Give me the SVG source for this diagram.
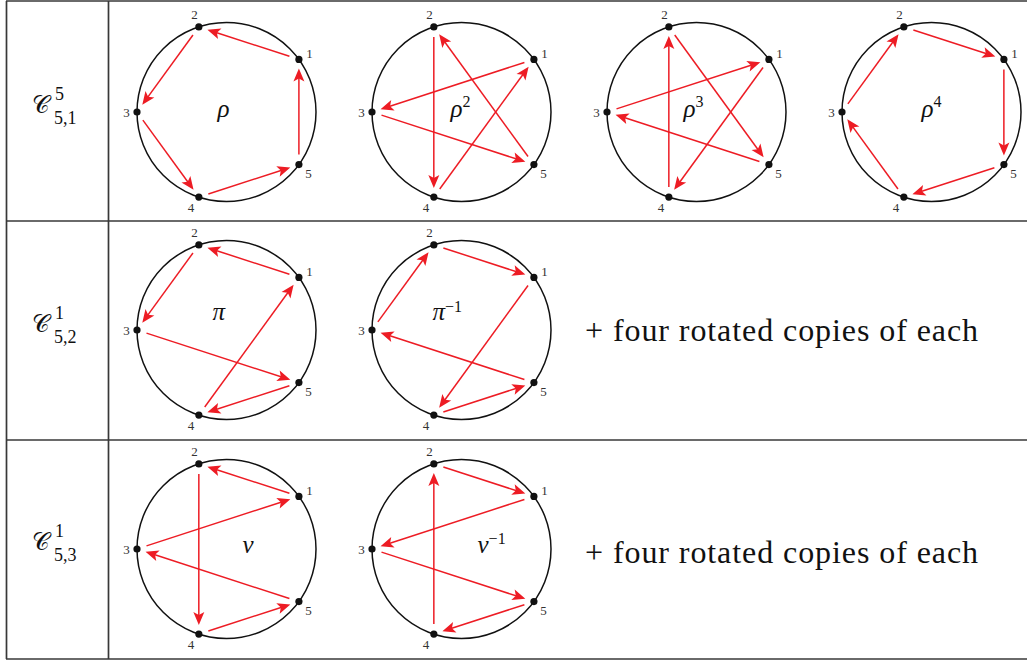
<svg xmlns="http://www.w3.org/2000/svg" width="1032" height="662" viewBox="0 0 1032 662">
<defs>
<marker id="ah" markerUnits="userSpaceOnUse" viewBox="-9 -6 15 12" refX="0" refY="0" markerWidth="15" markerHeight="12" orient="auto">
<path d="M5,0 L-8,-5.5 L-5,0 L-8,5.5 Z" fill="#ed1c24"/>
</marker>
<g id="ring"><circle r="89.5" fill="none" stroke="#111" stroke-width="1.5"/></g>
</defs>
<rect width="1032" height="662" fill="#fff"/>
<g id="table" stroke="#383838" stroke-width="1.7" fill="none">
<line x1="6" y1="1" x2="1027" y2="1"/>
<line x1="6" y1="221" x2="1027" y2="221"/>
<line x1="6" y1="440" x2="1027" y2="440"/>
<line x1="6" y1="659" x2="1027" y2="659"/>
<line x1="6.5" y1="1" x2="6.5" y2="659"/>
<line x1="108.5" y1="1" x2="108.5" y2="659"/>
</g>
<g id="label-row1" fill="#111">
<text font-family="Liberation Serif" style="font-family:'Liberation Serif',serif" font-size="24" x="32" y="113">𝒞</text>
<text font-family="Liberation Serif" style="font-family:'Liberation Serif',serif" font-size="18" x="55" y="100">5</text>
<text font-family="Liberation Serif" style="font-family:'Liberation Serif',serif" font-size="18" x="54" y="124">5,1</text>
</g>
<g id="label-row2" fill="#111">
<text font-family="Liberation Serif" style="font-family:'Liberation Serif',serif" font-size="24" x="32" y="331.5">𝒞</text>
<text font-family="Liberation Serif" style="font-family:'Liberation Serif',serif" font-size="18" x="55" y="318.5">1</text>
<text font-family="Liberation Serif" style="font-family:'Liberation Serif',serif" font-size="18" x="54" y="342.5">5,2</text>
</g>
<g id="label-row3" fill="#111">
<text font-family="Liberation Serif" style="font-family:'Liberation Serif',serif" font-size="24" x="32" y="550">𝒞</text>
<text font-family="Liberation Serif" style="font-family:'Liberation Serif',serif" font-size="18" x="55" y="537">1</text>
<text font-family="Liberation Serif" style="font-family:'Liberation Serif',serif" font-size="18" x="54" y="561">5,3</text>
</g>
<text id="note-row2" font-family="Liberation Serif" style="font-family:'Liberation Serif',serif" font-size="32" fill="#111" x="585" y="340.5" textLength="393" lengthAdjust="spacing">+ four rotated copies of each</text>
<text id="note-row3" font-family="Liberation Serif" style="font-family:'Liberation Serif',serif" font-size="32" fill="#111" x="585" y="562.5" textLength="393" lengthAdjust="spacing">+ four rotated copies of each</text>

<g id="rho" transform="translate(226.5,112)">
<use href="#ring"/>
<g id="rho-1"><circle fill="#111" cx="72.41" cy="-52.61" r="3.6"/><text font-family="Liberation Serif" style="font-family:'Liberation Serif',serif" font-size="13" fill="#333" text-anchor="middle" x="83" y="-54">1</text></g>
<g id="rho-2"><circle fill="#111" cx="-27.66" cy="-85.12" r="3.6"/><text font-family="Liberation Serif" style="font-family:'Liberation Serif',serif" font-size="13" fill="#333" text-anchor="middle" x="-32" y="-93.5">2</text></g>
<g id="rho-3"><circle fill="#111" cx="-89.5" cy="0" r="3.6"/><text font-family="Liberation Serif" style="font-family:'Liberation Serif',serif" font-size="13" fill="#333" text-anchor="middle" x="-100" y="4.5">3</text></g>
<g id="rho-4"><circle fill="#111" cx="-27.66" cy="85.12" r="3.6"/><text font-family="Liberation Serif" style="font-family:'Liberation Serif',serif" font-size="13" fill="#333" text-anchor="middle" x="-35.5" y="100">4</text></g>
<g id="rho-5"><circle fill="#111" cx="72.41" cy="52.61" r="3.6"/><text font-family="Liberation Serif" style="font-family:'Liberation Serif',serif" font-size="13" fill="#333" text-anchor="middle" x="82" y="65.5">5</text></g>
<text font-family="Liberation Serif" style="font-family:'Liberation Serif',serif" font-style="italic" font-size="25" fill="#111" x="-9" y="5">ρ</text>
</g>
<g id="rho2" transform="translate(461.5,112)">
<use href="#ring"/>
<g id="rho2-1"><circle fill="#111" cx="72.41" cy="-52.61" r="3.6"/><text font-family="Liberation Serif" style="font-family:'Liberation Serif',serif" font-size="13" fill="#333" text-anchor="middle" x="83" y="-54">1</text></g>
<g id="rho2-2"><circle fill="#111" cx="-27.66" cy="-85.12" r="3.6"/><text font-family="Liberation Serif" style="font-family:'Liberation Serif',serif" font-size="13" fill="#333" text-anchor="middle" x="-32" y="-93.5">2</text></g>
<g id="rho2-3"><circle fill="#111" cx="-89.5" cy="0" r="3.6"/><text font-family="Liberation Serif" style="font-family:'Liberation Serif',serif" font-size="13" fill="#333" text-anchor="middle" x="-100" y="4.5">3</text></g>
<g id="rho2-4"><circle fill="#111" cx="-27.66" cy="85.12" r="3.6"/><text font-family="Liberation Serif" style="font-family:'Liberation Serif',serif" font-size="13" fill="#333" text-anchor="middle" x="-35.5" y="100">4</text></g>
<g id="rho2-5"><circle fill="#111" cx="72.41" cy="52.61" r="3.6"/><text font-family="Liberation Serif" style="font-family:'Liberation Serif',serif" font-size="13" fill="#333" text-anchor="middle" x="82" y="65.5">5</text></g>
<text font-family="Liberation Serif" style="font-family:'Liberation Serif',serif" font-style="italic" font-size="25" fill="#111" x="-11" y="5">ρ<tspan font-style="normal" font-size="16" dy="-10">2</tspan></text>
</g>
<g id="rho3" transform="translate(696.5,112)">
<use href="#ring"/>
<g id="rho3-1"><circle fill="#111" cx="72.41" cy="-52.61" r="3.6"/><text font-family="Liberation Serif" style="font-family:'Liberation Serif',serif" font-size="13" fill="#333" text-anchor="middle" x="83" y="-54">1</text></g>
<g id="rho3-2"><circle fill="#111" cx="-27.66" cy="-85.12" r="3.6"/><text font-family="Liberation Serif" style="font-family:'Liberation Serif',serif" font-size="13" fill="#333" text-anchor="middle" x="-32" y="-93.5">2</text></g>
<g id="rho3-3"><circle fill="#111" cx="-89.5" cy="0" r="3.6"/><text font-family="Liberation Serif" style="font-family:'Liberation Serif',serif" font-size="13" fill="#333" text-anchor="middle" x="-100" y="4.5">3</text></g>
<g id="rho3-4"><circle fill="#111" cx="-27.66" cy="85.12" r="3.6"/><text font-family="Liberation Serif" style="font-family:'Liberation Serif',serif" font-size="13" fill="#333" text-anchor="middle" x="-35.5" y="100">4</text></g>
<g id="rho3-5"><circle fill="#111" cx="72.41" cy="52.61" r="3.6"/><text font-family="Liberation Serif" style="font-family:'Liberation Serif',serif" font-size="13" fill="#333" text-anchor="middle" x="82" y="65.5">5</text></g>
<text font-family="Liberation Serif" style="font-family:'Liberation Serif',serif" font-style="italic" font-size="25" fill="#111" x="-13" y="5">ρ<tspan font-style="normal" font-size="16" dy="-10">3</tspan></text>
</g>
<g id="rho4" transform="translate(931.5,112)">
<use href="#ring"/>
<g id="rho4-1"><circle fill="#111" cx="72.41" cy="-52.61" r="3.6"/><text font-family="Liberation Serif" style="font-family:'Liberation Serif',serif" font-size="13" fill="#333" text-anchor="middle" x="83" y="-54">1</text></g>
<g id="rho4-2"><circle fill="#111" cx="-27.66" cy="-85.12" r="3.6"/><text font-family="Liberation Serif" style="font-family:'Liberation Serif',serif" font-size="13" fill="#333" text-anchor="middle" x="-32" y="-93.5">2</text></g>
<g id="rho4-3"><circle fill="#111" cx="-89.5" cy="0" r="3.6"/><text font-family="Liberation Serif" style="font-family:'Liberation Serif',serif" font-size="13" fill="#333" text-anchor="middle" x="-100" y="4.5">3</text></g>
<g id="rho4-4"><circle fill="#111" cx="-27.66" cy="85.12" r="3.6"/><text font-family="Liberation Serif" style="font-family:'Liberation Serif',serif" font-size="13" fill="#333" text-anchor="middle" x="-35.5" y="100">4</text></g>
<g id="rho4-5"><circle fill="#111" cx="72.41" cy="52.61" r="3.6"/><text font-family="Liberation Serif" style="font-family:'Liberation Serif',serif" font-size="13" fill="#333" text-anchor="middle" x="82" y="65.5">5</text></g>
<text font-family="Liberation Serif" style="font-family:'Liberation Serif',serif" font-style="italic" font-size="25" fill="#111" x="-10" y="5">ρ<tspan font-style="normal" font-size="16" dy="-10">4</tspan></text>
</g>
<g id="pi" transform="translate(226.5,330)">
<use href="#ring"/>
<g id="pi-1"><circle fill="#111" cx="72.41" cy="-52.61" r="3.6"/><text font-family="Liberation Serif" style="font-family:'Liberation Serif',serif" font-size="13" fill="#333" text-anchor="middle" x="83" y="-54">1</text></g>
<g id="pi-2"><circle fill="#111" cx="-27.66" cy="-85.12" r="3.6"/><text font-family="Liberation Serif" style="font-family:'Liberation Serif',serif" font-size="13" fill="#333" text-anchor="middle" x="-32" y="-93.5">2</text></g>
<g id="pi-3"><circle fill="#111" cx="-89.5" cy="0" r="3.6"/><text font-family="Liberation Serif" style="font-family:'Liberation Serif',serif" font-size="13" fill="#333" text-anchor="middle" x="-100" y="4.5">3</text></g>
<g id="pi-4"><circle fill="#111" cx="-27.66" cy="85.12" r="3.6"/><text font-family="Liberation Serif" style="font-family:'Liberation Serif',serif" font-size="13" fill="#333" text-anchor="middle" x="-35.5" y="100">4</text></g>
<g id="pi-5"><circle fill="#111" cx="72.41" cy="52.61" r="3.6"/><text font-family="Liberation Serif" style="font-family:'Liberation Serif',serif" font-size="13" fill="#333" text-anchor="middle" x="82" y="65.5">5</text></g>
<text font-family="Liberation Serif" style="font-family:'Liberation Serif',serif" font-style="italic" font-size="25" fill="#111" x="-14" y="-10">π</text>
</g>
<g id="piinv" transform="translate(461.5,330)">
<use href="#ring"/>
<g id="piinv-1"><circle fill="#111" cx="72.41" cy="-52.61" r="3.6"/><text font-family="Liberation Serif" style="font-family:'Liberation Serif',serif" font-size="13" fill="#333" text-anchor="middle" x="83" y="-54">1</text></g>
<g id="piinv-2"><circle fill="#111" cx="-27.66" cy="-85.12" r="3.6"/><text font-family="Liberation Serif" style="font-family:'Liberation Serif',serif" font-size="13" fill="#333" text-anchor="middle" x="-32" y="-93.5">2</text></g>
<g id="piinv-3"><circle fill="#111" cx="-89.5" cy="0" r="3.6"/><text font-family="Liberation Serif" style="font-family:'Liberation Serif',serif" font-size="13" fill="#333" text-anchor="middle" x="-100" y="4.5">3</text></g>
<g id="piinv-4"><circle fill="#111" cx="-27.66" cy="85.12" r="3.6"/><text font-family="Liberation Serif" style="font-family:'Liberation Serif',serif" font-size="13" fill="#333" text-anchor="middle" x="-35.5" y="100">4</text></g>
<g id="piinv-5"><circle fill="#111" cx="72.41" cy="52.61" r="3.6"/><text font-family="Liberation Serif" style="font-family:'Liberation Serif',serif" font-size="13" fill="#333" text-anchor="middle" x="82" y="65.5">5</text></g>
<text font-family="Liberation Serif" style="font-family:'Liberation Serif',serif" font-style="italic" font-size="25" fill="#111" x="-29" y="-10">π<tspan font-style="normal" font-size="16" dy="-8">−1</tspan></text>
</g>
<g id="nu" transform="translate(226.5,549)">
<use href="#ring"/>
<g id="nu-1"><circle fill="#111" cx="72.41" cy="-52.61" r="3.6"/><text font-family="Liberation Serif" style="font-family:'Liberation Serif',serif" font-size="13" fill="#333" text-anchor="middle" x="83" y="-54">1</text></g>
<g id="nu-2"><circle fill="#111" cx="-27.66" cy="-85.12" r="3.6"/><text font-family="Liberation Serif" style="font-family:'Liberation Serif',serif" font-size="13" fill="#333" text-anchor="middle" x="-32" y="-93.5">2</text></g>
<g id="nu-3"><circle fill="#111" cx="-89.5" cy="0" r="3.6"/><text font-family="Liberation Serif" style="font-family:'Liberation Serif',serif" font-size="13" fill="#333" text-anchor="middle" x="-100" y="4.5">3</text></g>
<g id="nu-4"><circle fill="#111" cx="-27.66" cy="85.12" r="3.6"/><text font-family="Liberation Serif" style="font-family:'Liberation Serif',serif" font-size="13" fill="#333" text-anchor="middle" x="-35.5" y="100">4</text></g>
<g id="nu-5"><circle fill="#111" cx="72.41" cy="52.61" r="3.6"/><text font-family="Liberation Serif" style="font-family:'Liberation Serif',serif" font-size="13" fill="#333" text-anchor="middle" x="82" y="65.5">5</text></g>
<text font-family="Liberation Serif" style="font-family:'Liberation Serif',serif" font-style="italic" font-size="25" fill="#111" x="16" y="4">ν</text>
</g>
<g id="nuinv" transform="translate(461.5,549)">
<use href="#ring"/>
<g id="nuinv-1"><circle fill="#111" cx="72.41" cy="-52.61" r="3.6"/><text font-family="Liberation Serif" style="font-family:'Liberation Serif',serif" font-size="13" fill="#333" text-anchor="middle" x="83" y="-54">1</text></g>
<g id="nuinv-2"><circle fill="#111" cx="-27.66" cy="-85.12" r="3.6"/><text font-family="Liberation Serif" style="font-family:'Liberation Serif',serif" font-size="13" fill="#333" text-anchor="middle" x="-32" y="-93.5">2</text></g>
<g id="nuinv-3"><circle fill="#111" cx="-89.5" cy="0" r="3.6"/><text font-family="Liberation Serif" style="font-family:'Liberation Serif',serif" font-size="13" fill="#333" text-anchor="middle" x="-100" y="4.5">3</text></g>
<g id="nuinv-4"><circle fill="#111" cx="-27.66" cy="85.12" r="3.6"/><text font-family="Liberation Serif" style="font-family:'Liberation Serif',serif" font-size="13" fill="#333" text-anchor="middle" x="-35.5" y="100">4</text></g>
<g id="nuinv-5"><circle fill="#111" cx="72.41" cy="52.61" r="3.6"/><text font-family="Liberation Serif" style="font-family:'Liberation Serif',serif" font-size="13" fill="#333" text-anchor="middle" x="82" y="65.5">5</text></g>
<text font-family="Liberation Serif" style="font-family:'Liberation Serif',serif" font-style="italic" font-size="25" fill="#111" x="16" y="4">ν<tspan font-style="normal" font-size="16" dy="-9">−1</tspan></text>
</g>

<g id="connectors" stroke="#ed1c24" stroke-width="1.5" fill="none" marker-end="url(#ah)">
<g transform="translate(226.5,112)">
<line x1="62.9" y1="-55.7" x2="-14.34" y2="-80.79"/>
<line x1="62.9" y1="-55.7" x2="-14.34" y2="-80.79" transform="rotate(-72)"/>
<line x1="62.9" y1="-55.7" x2="-14.34" y2="-80.79" transform="rotate(-144)"/>
<line x1="62.9" y1="-55.7" x2="-14.34" y2="-80.79" transform="rotate(144)"/>
<line x1="62.9" y1="-55.7" x2="-14.34" y2="-80.79" transform="rotate(72)"/>
</g>
<g transform="translate(461.5,112)">
<line x1="62.9" y1="-49.52" x2="-76.19" y2="-4.33"/>
<line x1="62.9" y1="-49.52" x2="-76.19" y2="-4.33" transform="rotate(-72)"/>
<line x1="62.9" y1="-49.52" x2="-76.19" y2="-4.33" transform="rotate(-144)"/>
<line x1="62.9" y1="-49.52" x2="-76.19" y2="-4.33" transform="rotate(144)"/>
<line x1="62.9" y1="-49.52" x2="-76.19" y2="-4.33" transform="rotate(72)"/>
</g>
<g transform="translate(696.5,112)">
<line x1="-79.99" y1="-3.09" x2="59.09" y2="-48.28"/>
<line x1="-79.99" y1="-3.09" x2="59.09" y2="-48.28" transform="rotate(-72)"/>
<line x1="-79.99" y1="-3.09" x2="59.09" y2="-48.28" transform="rotate(-144)"/>
<line x1="-79.99" y1="-3.09" x2="59.09" y2="-48.28" transform="rotate(144)"/>
<line x1="-79.99" y1="-3.09" x2="59.09" y2="-48.28" transform="rotate(72)"/>
</g>
<g transform="translate(931.5,112)">
<line x1="-18.15" y1="-82.03" x2="59.09" y2="-56.93"/>
<line x1="-18.15" y1="-82.03" x2="59.09" y2="-56.93" transform="rotate(-72)"/>
<line x1="-18.15" y1="-82.03" x2="59.09" y2="-56.93" transform="rotate(-144)"/>
<line x1="-18.15" y1="-82.03" x2="59.09" y2="-56.93" transform="rotate(144)"/>
<line x1="-18.15" y1="-82.03" x2="59.09" y2="-56.93" transform="rotate(72)"/>
</g>
<g transform="translate(226.5,330)">
<line x1="62.9" y1="-55.7" x2="-14.34" y2="-80.79"/>
<line x1="62.9" y1="-55.7" x2="-14.34" y2="-80.79" transform="rotate(-72)"/>
<line x1="62.9" y1="-49.52" x2="-76.19" y2="-4.33" transform="rotate(-144)"/>
<line x1="-18.15" y1="-82.03" x2="59.09" y2="-56.93" transform="rotate(144)"/>
<line x1="62.9" y1="-49.52" x2="-76.19" y2="-4.33" transform="rotate(144)"/>
</g>
<g transform="translate(461.5,330)">
<line x1="-18.15" y1="-82.03" x2="59.09" y2="-56.93"/>
<line x1="-18.15" y1="-82.03" x2="59.09" y2="-56.93" transform="rotate(-72)"/>
<line x1="-79.99" y1="-3.09" x2="59.09" y2="-48.28" transform="rotate(-144)"/>
<line x1="62.9" y1="-55.7" x2="-14.34" y2="-80.79" transform="rotate(144)"/>
<line x1="-79.99" y1="-3.09" x2="59.09" y2="-48.28" transform="rotate(144)"/>
</g>
<g transform="translate(226.5,549)">
<line x1="62.9" y1="-55.7" x2="-14.34" y2="-80.79"/>
<line x1="62.9" y1="-49.52" x2="-76.19" y2="-4.33" transform="rotate(-72)"/>
<line x1="62.9" y1="-55.7" x2="-14.34" y2="-80.79" transform="rotate(144)"/>
<line x1="-79.99" y1="-3.09" x2="59.09" y2="-48.28" transform="rotate(-144)"/>
<line x1="-79.99" y1="-3.09" x2="59.09" y2="-48.28"/>
</g>
<g transform="translate(461.5,549)">
<line x1="-18.15" y1="-82.03" x2="59.09" y2="-56.93"/>
<line x1="-79.99" y1="-3.09" x2="59.09" y2="-48.28" transform="rotate(-72)"/>
<line x1="-18.15" y1="-82.03" x2="59.09" y2="-56.93" transform="rotate(144)"/>
<line x1="62.9" y1="-49.52" x2="-76.19" y2="-4.33" transform="rotate(-144)"/>
<line x1="62.9" y1="-49.52" x2="-76.19" y2="-4.33"/>
</g>
</g>
</svg>
